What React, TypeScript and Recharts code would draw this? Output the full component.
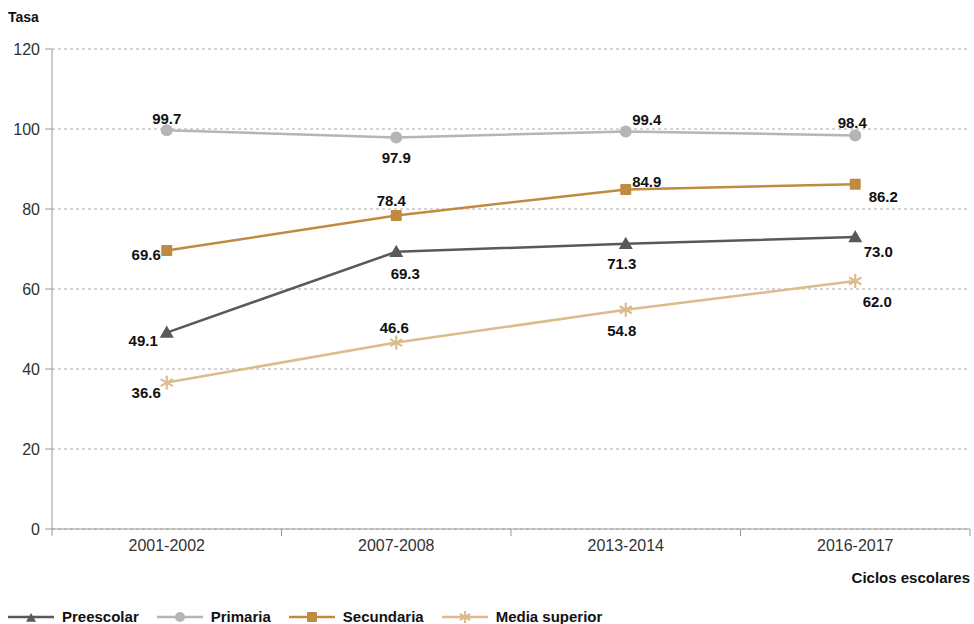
import React from "react";
import { LineChart, Line, XAxis, YAxis, CartesianGrid, LabelList } from "recharts";

const cycles = ["2001-2002", "2007-2008", "2013-2014", "2016-2017"];
const preescolar = [49.1, 69.3, 71.3, 73.0];
const primaria = [99.7, 97.9, 99.4, 98.4];
const secundaria = [69.6, 78.4, 84.9, 86.2];
const mediaSuperior = [36.6, 46.6, 54.8, 62.0];
const yTicks = [0, 20, 40, 60, 80, 100, 120];

const data = cycles.map((c, i) => ({
  cycle: c,
  preescolar: preescolar[i],
  primaria: primaria[i],
  secundaria: secundaria[i],
  media: mediaSuperior[i],
}));

const W = 974;
const H = 624;
const M = { top: 49, right: 4, bottom: 65, left: 0 };
const Y_W = 52;
const BAND = (W - M.right - M.left - Y_W) / cycles.length;
const FONT = "'Liberation Sans', Arial, Helvetica, sans-serif";

// label placement per point: [dx, dy, anchor]
type Place = [number, number, "start" | "middle" | "end"];
const placePre: Place[] = [[-9, 8, "end"], [9, 22, "middle"], [-4, 20, "middle"], [23, 14, "middle"]];
const placePri: Place[] = [[0, -12, "middle"], [0, 20, "middle"], [21, -12, "middle"], [-3, -13, "middle"]];
const placeSec: Place[] = [[-6, 4, "end"], [-5, -15, "middle"], [21, -8, "middle"], [28, 12, "middle"]];
const placeMed: Place[] = [[-6, 10, "end"], [-2, -15, "middle"], [-4, 21, "middle"], [22, 20, "middle"]];

const C_PRE = "#595959";
const C_PRI = "#b5b5b5";
const C_SEC = "#c08b40";
const C_MED = "#dcbc8c";

function Triangle({ cx, cy, fill, s = 7 }: any) {
  return <path d={`M${cx},${cy - s} L${cx + s},${cy + s * 0.75} L${cx - s},${cy + s * 0.75} Z`} fill={fill} />;
}
function Square({ cx, cy, fill, s = 5.5 }: any) {
  return <rect x={cx - s} y={cy - s} width={s * 2} height={s * 2} fill={fill} rx={1} />;
}
function Circle({ cx, cy, fill, r = 6 }: any) {
  return <circle cx={cx} cy={cy} r={r} fill={fill} />;
}
function Star({ cx, cy, stroke, r = 7 }: any) {
  const lines = [90, 30, 150].map((a) => {
    const rad = (a * Math.PI) / 180;
    const dx = Math.cos(rad) * r;
    const dy = Math.sin(rad) * r;
    return <line key={a} x1={cx - dx} y1={cy - dy} x2={cx + dx} y2={cy + dy} stroke={stroke} strokeWidth={2.2} />;
  });
  return <g>{lines}</g>;
}

const dotFn = (kind: string, color: string) => (p: any) => {
  const k = `${kind}-${p.index}`;
  if (p.cx == null || p.cy == null) return <g key={k} />;
  if (kind === "tri") return <Triangle key={k} cx={p.cx} cy={p.cy} fill={color} />;
  if (kind === "sq") return <Square key={k} cx={p.cx} cy={p.cy} fill={color} />;
  if (kind === "ci") return <Circle key={k} cx={p.cx} cy={p.cy} fill={color} />;
  return <Star key={k} cx={p.cx} cy={p.cy} stroke={color} />;
};

const labelFn = (places: Place[]) => (p: any) => {
  const pl = places[p.index] || [0, -12, "middle"];
  return (
    <text
      x={p.x + pl[0]}
      y={p.y + pl[1]}
      textAnchor={pl[2]}
      dominantBaseline="central"
      fontFamily={FONT}
      fontWeight="bold"
      fontSize={15}
      fill="#111"
    >
      {Number(p.value).toFixed(1)}
    </text>
  );
};

function XTick(props: any) {
  const { x, y, payload, index } = props;
  return (
    <g>
      <line x1={x - BAND / 2} y1={y} x2={x - BAND / 2} y2={y + 7} stroke="#999" />
      {index === cycles.length - 1 && <line x1={x + BAND / 2} y1={y} x2={x + BAND / 2} y2={y + 7} stroke="#999" />}
      <text x={x} y={y + 16} textAnchor="middle" dominantBaseline="central" fontFamily={FONT} fontSize={16} fill="#333">
        {payload.value}
      </text>
    </g>
  );
}

const legendItems = [
  { name: "Preescolar", color: C_PRE, kind: "tri" },
  { name: "Primaria", color: C_PRI, kind: "ci" },
  { name: "Secundaria", color: C_SEC, kind: "sq" },
  { name: "Media superior", color: C_MED, kind: "st" },
];

function LegendIcon({ kind, color }: { kind: string; color: string }) {
  const cx = 23;
  const cy = 8;
  let mark;
  if (kind === "tri") mark = <Triangle cx={cx} cy={cy + 1} fill={color} s={5} />;
  else if (kind === "ci") mark = <Circle cx={cx} cy={cy} fill={color} r={5} />;
  else if (kind === "sq") mark = <Square cx={cx} cy={cy} fill={color} s={5} />;
  else mark = <Star cx={cx} cy={cy} stroke={color} r={6} />;
  return (
    <svg width={46} height={16} style={{ display: "block" }}>
      <line x1={0} y1={cy} x2={46} y2={cy} stroke={color} strokeWidth={2.5} />
      {mark}
    </svg>
  );
}

export default function App() {
  return (
    <div style={{ position: "absolute", left: 0, top: 0, width: W, height: H, background: "#fff", fontFamily: FONT }}>
      <div style={{ position: "absolute", left: 8, top: 9, fontSize: 14, fontWeight: "bold", color: "#111" }}>Tasa</div>
      <div style={{ position: "absolute", right: 4, top: 569, fontSize: 15, fontWeight: "bold", color: "#111" }}>
        Ciclos escolares
      </div>
      <LineChart width={W} height={H} data={data} margin={M}>
        <CartesianGrid horizontal vertical={false} stroke="#aaa" strokeDasharray="3 3" />
        <XAxis
          dataKey="cycle"
          scale="band"
          tick={<XTick />}
          tickLine={false}
          tickSize={0}
          tickMargin={0}
          axisLine={{ stroke: "#999" }}
          height={30}
          interval={0}
        />
        <YAxis
          domain={[0, 120]}
          ticks={yTicks}
          width={Y_W}
          tickSize={7}
          tickMargin={5}
          axisLine={{ stroke: "#999" }}
          tickLine={{ stroke: "#999" }}
          tick={{ fill: "#333", fontSize: 16, fontFamily: FONT }}
        />
        <Line dataKey="primaria" stroke={C_PRI} strokeWidth={2.5} dot={dotFn("ci", C_PRI)} isAnimationActive={false}>
          <LabelList dataKey="primaria" content={labelFn(placePri)} />
        </Line>
        <Line dataKey="secundaria" stroke={C_SEC} strokeWidth={2.5} dot={dotFn("sq", C_SEC)} isAnimationActive={false}>
          <LabelList dataKey="secundaria" content={labelFn(placeSec)} />
        </Line>
        <Line dataKey="preescolar" stroke={C_PRE} strokeWidth={2.5} dot={dotFn("tri", C_PRE)} isAnimationActive={false}>
          <LabelList dataKey="preescolar" content={labelFn(placePre)} />
        </Line>
        <Line dataKey="media" stroke={C_MED} strokeWidth={2.5} dot={dotFn("st", C_MED)} isAnimationActive={false}>
          <LabelList dataKey="media" content={labelFn(placeMed)} />
        </Line>
      </LineChart>
      <div style={{ position: "absolute", left: 8, top: 608, display: "flex", alignItems: "center" }}>
        {legendItems.map((it) => (
          <div key={it.name} style={{ display: "flex", alignItems: "center", marginRight: 18 }}>
            <LegendIcon kind={it.kind} color={it.color} />
            <span style={{ marginLeft: 8, fontSize: 15, fontWeight: "bold", color: "#111" }}>{it.name}</span>
          </div>
        ))}
      </div>
    </div>
  );
}
